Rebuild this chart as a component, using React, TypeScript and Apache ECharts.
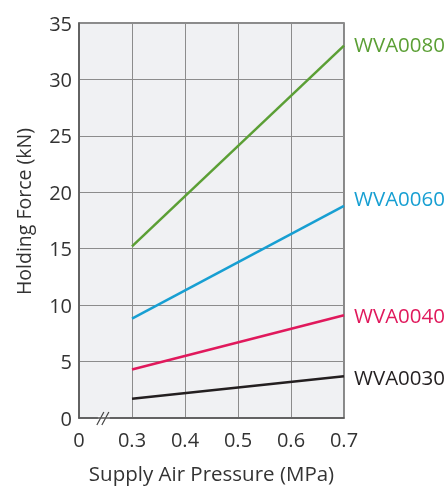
import React, { useEffect, useRef } from "react";
import * as echarts from "echarts";

const xTickLabels = ["0", "0.3", "0.4", "0.5", "0.6", "0.7"];
const pressures = [0.3, 0.7];
const seriesNames = ["WVA0080", "WVA0060", "WVA0040", "WVA0030"];
const wva0080 = [15.2, 33.0];
const wva0060 = [8.8, 18.8];
const wva0040 = [4.3, 9.1];
const wva0030 = [1.7, 3.7];
const colors = ["#5b9f35", "#179fd2", "#e0195c", "#231f20"];

// axis has a break: 0 then 0.3..0.7 at equal spacing
const toAxis = (p: number) => (p === 0 ? 0 : Math.round((p - 0.2) / 0.1 * 1000) / 1000);

export default function App() {
  const ref = useRef<HTMLDivElement>(null);
  useEffect(() => {
    const chart = echarts.init(ref.current!, null, { renderer: "svg" });
    const font = "'Open Sans', 'Noto Sans', sans-serif";
    const all = [wva0080, wva0060, wva0040, wva0030];
    const labelOffsets = [[0, -2], [0, -8], [0, 0], [0, 1]];
    chart.setOption({
      animation: false,
      grid: {
        left: 79, right: 104, top: 23, bottom: 69,
        show: true, backgroundColor: "#f0f1f3", borderColor: "#666", borderWidth: 1.5,
      },
      xAxis: {
        type: "value", min: 0, max: 5, interval: 1,
        name: "Supply Air Pressure (MPa)", nameLocation: "middle", nameGap: 44,
        nameTextStyle: { fontSize: 20.5, color: "#333", fontFamily: font },
        axisLine: { show: true, lineStyle: { color: "#555", width: 1.5 } },
        axisTick: { show: false },
        axisLabel: { fontSize: 20, color: "#333", fontFamily: font, margin: 11,
          formatter: (v: number) => xTickLabels[v] ?? "" },
        splitLine: { show: true, lineStyle: { color: "#8c8c8c", width: 1 } },
      },
      yAxis: {
        type: "value", min: 0, max: 35, interval: 5,
        name: "Holding Force (kN)", nameLocation: "middle", nameGap: 46,
        nameTextStyle: { fontSize: 19.5, color: "#333", fontFamily: font, padding: [0, 0, 0, 18] },
        axisLine: { show: true, lineStyle: { color: "#555", width: 1.5 } },
        axisTick: { show: false },
        axisLabel: { fontSize: 20, color: "#333", fontFamily: font, margin: 7 },
        splitLine: { show: true, lineStyle: { color: "#8c8c8c", width: 1 } },
      },
      series: seriesNames.map((name, i) => ({
        type: "line", name, symbol: "none",
        data: pressures.map((p, j) => [toAxis(p), all[i][j]]),
        lineStyle: { color: colors[i], width: 2.5 },
        endLabel: { show: true, formatter: name, color: colors[i], fontSize: 20.5,
          fontFamily: font, distance: 10, offset: labelOffsets[i] },
      })),
    });
    const [bx, by] = chart.convertToPixel({ gridIndex: 0 }, [0.45, 0]) as number[];
    chart.setOption({
      graphic: [
        { type: "rect", shape: { x: bx - 5, y: by - 2, width: 12, height: 4 }, style: { fill: "#fff" } },
        { type: "line", shape: { x1: bx - 6, y1: by + 7, x2: bx + 1, y2: by - 6 }, style: { stroke: "#444", lineWidth: 1.2 } },
        { type: "line", shape: { x1: bx - 1, y1: by + 7, x2: bx + 6, y2: by - 6 }, style: { stroke: "#444", lineWidth: 1.2 } },
      ],
    });
    return () => chart.dispose();
  }, []);
  return <div ref={ref} style={{ position: "fixed", left: 0, top: 0, width: 448, height: 488 }} />;
}
